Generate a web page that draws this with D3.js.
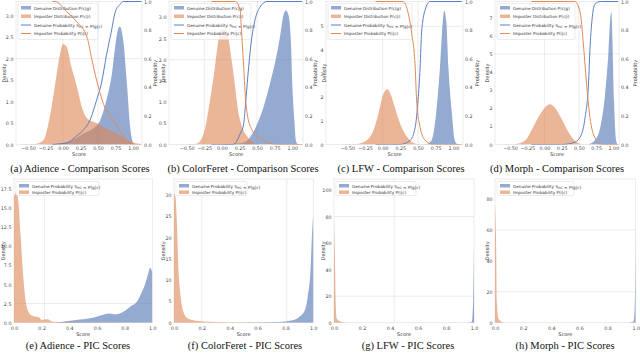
<!DOCTYPE html>
<html>
<head>
<meta charset="utf-8">
<script src="https://cdnjs.cloudflare.com/ajax/libs/d3/7.8.5/d3.min.js"></script>
<style>
body{margin:0;background:#fff;}
svg{display:block;}
</style>
</head>
<body>
<svg id="chart" width="640" height="354"></svg>
<script>
//tick values
var scoreTicksTop = [-0.5, -0.25, 0, 0.25, 0.5, 0.75, 1.0];
var scoreTicksBottom = [0, 0.2, 0.4, 0.6, 0.8, 1.0];
var probTicks = [0, 0.2, 0.4, 0.6, 0.8, 1.0];
var adienceDensityTicks = [0, 0.5, 1.0, 1.5, 2.0, 2.5, 3.0];
var colorferetDensityTicks = [0, 0.5, 1.0, 1.5, 2.0, 2.5, 3.0];
var lfwDensityTicks = [0, 1, 2, 3, 4, 5];
var morphDensityTicks = [0, 1, 2, 3, 4, 5, 6, 7];
var adiencePicTicks = [0, 2.5, 5.0, 7.5, 10.0, 12.5, 15.0, 17.5];
var colorferetPicTicks = [0, 5, 10, 15, 20, 25, 30];
var lfwPicTicks = [0, 20, 40, 60, 80, 100];
var morphPicTicks = [0, 20, 40, 60, 80];

var captions = ["(a) Adience - Comparison Scores", "(b) ColorFeret - Comparison Scores",
    "(c) LFW - Comparison Scores", "(d) Morph - Comparison Scores",
    "(e) Adience - PIC Scores", "(f) ColorFeret - PIC Scores",
    "(g) LFW - PIC Scores", "(h) Morph - PIC Scores"];

//comparison score densities [score, density]
var adienceGenuineDist = [[-0.25,0],[0.05,0.05],[0.29,0.25],[0.43,0.37],[0.53,0.56],[0.62,1.03],[0.70,1.66],[0.74,2.2],[0.79,2.7],[0.81,2.75],[0.86,2.44],[0.91,1.5],[0.96,0.4],[0.98,0.17],[1.01,0.03],[1.05,0]];
var adienceImposterDist = [[-0.62,0],[-0.40,0.01],[-0.28,0.1],[-0.19,0.63],[-0.11,1.42],[-0.04,2.12],[0.0,2.34],[0.05,2.28],[0.12,1.81],[0.20,1.34],[0.27,0.87],[0.34,0.62],[0.48,0.5],[0.67,0.33],[0.86,0.17],[1.0,0.03],[1.06,0]];
var colorferetGenuineDist = [[0.0,0],[0.07,0.01],[0.31,0.05],[0.40,0.17],[0.50,0.48],[0.59,0.875],[0.68,1.42],[0.76,1.97],[0.83,2.59],[0.87,3.02],[0.91,3.16],[0.945,3.06],[0.98,2.44],[1.0,1.42],[1.03,0.56],[1.05,0.1],[1.08,0]];
var colorferetImposterDist = [[-0.55,0],[-0.36,0.02],[-0.26,0.25],[-0.17,1.03],[-0.10,1.81],[-0.05,2.44],[-0.01,2.71],[0.045,2.71],[0.09,2.52],[0.14,1.97],[0.19,1.34],[0.23,0.8],[0.28,0.45],[0.35,0.21],[0.45,0.05],[0.54,0]];
var lfwGenuineDist = [[0.55,0],[0.62,0.02],[0.69,0.17],[0.76,1.43],[0.81,3.25],[0.85,5.2],[0.87,5.66],[0.90,5.2],[0.93,3.25],[0.98,1.29],[1.02,0.17],[1.06,0]];
var lfwImposterDist = [[-0.6,0],[-0.37,0.02],[-0.23,0.17],[-0.13,0.59],[-0.04,1.55],[0.0,2.05],[0.04,2.3],[0.07,2.34],[0.11,2.15],[0.16,1.7],[0.2,1.29],[0.29,0.59],[0.39,0.17],[0.48,0.02],[0.55,0]];
var morphGenuineDist = [[0.6,0],[0.64,0.02],[0.73,0.22],[0.81,0.95],[0.88,2.78],[0.93,5.16],[0.96,7.17],[0.97,7.35],[0.985,6.07],[1.01,2.41],[1.04,0.22],[1.06,0]];
var morphImposterDist = [[-0.6,0],[-0.43,0.02],[-0.28,0.22],[-0.19,0.77],[-0.09,1.5],[0.008,2.05],[0.08,2.23],[0.15,2.05],[0.25,1.41],[0.35,0.68],[0.44,0.22],[0.54,0.02],[0.6,0]];

//probability curves [score, probability]
var adienceGenuineProb = [[-0.15,0],[0.05,0.01],[0.195,0.06],[0.29,0.1],[0.386,0.17],[0.48,0.31],[0.55,0.43],[0.62,0.62],[0.695,0.8],[0.743,0.92],[0.814,0.98],[0.86,1.0],[1.12,1.0]];
var adienceImposterProb = [[-0.15,1.0],[-0.11,1.0],[0.05,0.93],[0.195,0.86],[0.35,0.74],[0.41,0.6],[0.48,0.45],[0.53,0.36],[0.58,0.28],[0.67,0.2],[0.77,0.13],[0.86,0.06],[0.96,0.01],[1.12,0]];
var colorferetGenuineProb = [[-0.15,0],[0.16,0],[0.26,0.075],[0.31,0.145],[0.34,0.31],[0.38,0.54],[0.42,0.73],[0.47,0.87],[0.54,0.96],[0.64,1.0],[1.14,1.0]];
var colorferetImposterProb = [[-0.15,1.0],[0.19,1.0],[0.26,0.94],[0.28,0.78],[0.31,0.54],[0.33,0.36],[0.36,0.215],[0.42,0.11],[0.52,0.05],[0.64,0.016],[0.78,0],[1.14,0]];
var lfwGenuineProb = [[-0.1,0],[0.245,0],[0.39,0.03],[0.46,0.12],[0.5,0.31],[0.53,0.54],[0.55,0.78],[0.6,0.94],[0.67,1.0],[1.12,1.0]];
var lfwImposterProb = [[-0.1,1.0],[0.29,1.0],[0.36,0.92],[0.41,0.78],[0.46,0.54],[0.48,0.31],[0.53,0.12],[0.6,0.03],[0.72,0],[1.12,0]];
var morphGenuineProb = [[-0.19,0],[0.25,0],[0.44,0.016],[0.54,0.075],[0.59,0.19],[0.64,0.43],[0.66,0.66],[0.69,0.87],[0.73,0.98],[0.81,1.0],[1.07,1.0]];
var morphImposterProb = [[-0.19,1.0],[0.44,1.0],[0.52,0.92],[0.56,0.73],[0.61,0.43],[0.66,0.19],[0.73,0.05],[0.83,0],[1.07,0]];

//PIC score densities [score, density]
var adienceGenuinePic = [[0.3,0],[0.45,0.35],[0.55,0.57],[0.62,0.92],[0.69,1.22],[0.74,1.1],[0.79,1.44],[0.84,2.1],[0.89,2.76],[0.92,3.85],[0.95,5.16],[0.97,6.4],[0.985,7.2],[1.0,6.6]];
var adienceImposterPic = [[0,16.5],[0.014,17.0],[0.03,16.1],[0.048,11.3],[0.067,6.0],[0.087,2.5],[0.116,1.1],[0.15,0.8],[0.18,0.7],[0.2,0.35],[0.24,0.44],[0.28,0.13],[0.38,0.1],[0.62,0.04],[1.0,0]];
var colorferetGenuinePic = [[0.5,0],[0.74,0.16],[0.86,0.63],[0.9,1.4],[0.94,3.0],[0.96,6.1],[0.98,12.4],[0.99,20.2],[0.998,24.9],[1.0,25.7]];
var colorferetImposterPic = [[0,30.4],[0.01,29.6],[0.02,24.1],[0.03,13.9],[0.048,6.1],[0.067,2.6],[0.1,1.0],[0.16,0.47],[0.26,0.23],[0.5,0.08],[1.0,0]];
var lfwGenuinePic = [[0.95,0],[0.983,0.5],[0.99,7],[0.995,19.5],[0.998,40],[1.0,57]];
var lfwImposterPic = [[0,76],[0.004,60],[0.008,42],[0.012,15],[0.02,3],[0.05,0.8],[0.1,0]];
var morphGenuinePic = [[0.95,0],[0.985,1],[0.992,8],[0.996,25],[0.999,50],[1.0,64]];
var morphImposterPic = [[0,77],[0.007,55.6],[0.014,12.5],[0.024,2.8],[0.047,0.6],[0.07,0]];

//legend labels
var topLegend = [
    {kind:"patch", who:"genuine", parts:["Genuine Distribution P(c|g)"]},
    {kind:"patch", who:"imposter", parts:["Imposter Distribution P(c|i)"]},
    {kind:"line", who:"genuine", parts:["Genuine Probability S", {sub:"PIC"}, " = P(g|c)"]},
    {kind:"line", who:"imposter", parts:["Imposter Probability P(i|c)"]}
];
var bottomLegend = [
    {kind:"patch", who:"genuine", parts:["Genuine Probability S", {sub:"PIC"}, " = P(g|c)"]},
    {kind:"patch", who:"imposter", parts:["Imposter Probability P(i|c)"]}
];

var colors = {genuine:"#4c72b0", imposter:"#dd8452"};
var lineColors = {genuine:"#5b7fc2", imposter:"#e08a5a"};

//panel layout (pixel boxes + axis limits)
var topRow = {top:1.5, bottom:144.5};
var bottomRow = {top:179, bottom:322.7};

var panels = [
    {left:16, right:142, row:topRow, xlim:[-0.671,1.129], ymax:3.33, xTicks:scoreTicksTop, xFmt:".2f", yTicks:adienceDensityTicks, yFmt:".1f",
     gen:adienceGenuineDist, imp:adienceImposterDist, genProb:adienceGenuineProb, impProb:adienceImposterProb,
     caption:captions[0], capX:80, gridX:[0,0.5], gridY:[2.0], legendW:80, densX:4, probX:155},
    {left:169, right:303, row:topRow, xlim:[-0.751,1.152], ymax:3.375, xTicks:scoreTicksTop, xFmt:".2f", yTicks:colorferetDensityTicks, yFmt:".1f",
     gen:colorferetGenuineDist, imp:colorferetImposterDist, genProb:colorferetGenuineProb, impProb:colorferetImposterProb,
     caption:captions[1], capX:243, gridX:[-0.25,0.5], gridY:[2.0], legendW:80, densX:163, probX:315},
    {left:326, right:463, row:topRow, xlim:[-0.801,1.136], ymax:6.05, xTicks:scoreTicksTop, xFmt:".2f", yTicks:lfwDensityTicks, yFmt:"d",
     gen:lfwGenuineDist, imp:lfwImposterDist, genProb:lfwGenuineProb, impProb:lfwImposterProb,
     caption:captions[2], capX:401, gridX:[0,0.5], gridY:[5], legendW:84, densX:324, probX:477},
    {left:495, right:619, row:topRow, xlim:[-0.718,1.082], ymax:7.9, xTicks:scoreTicksTop, xFmt:".2f", yTicks:morphDensityTicks, yFmt:"d",
     gen:morphGenuineDist, imp:morphImposterDist, genProb:morphGenuineProb, impProb:morphImposterProb,
     caption:captions[3], capX:557, gridX:[0,0.5], gridY:[5], legendW:78, densX:487, probX:635},
    {left:14, right:152.3, row:bottomRow, xlim:[0,1], ymax:18.8, xTicks:scoreTicksBottom, xFmt:".1f", yTicks:adiencePicTicks, yFmt:".1f",
     gen:adienceGenuinePic, imp:adienceImposterPic, caption:captions[4], capX:78, gridX:[0.22], gridY:[2.5], legendW:83, densX:3},
    {left:174, right:313.3, row:bottomRow, xlim:[0,1], ymax:33.76, xTicks:scoreTicksBottom, xFmt:".1f", yTicks:colorferetPicTicks, yFmt:"d",
     gen:colorferetGenuinePic, imp:colorferetImposterPic, caption:captions[5], capX:245, gridX:[0.2,0.81], gridY:[], legendW:71, densX:163},
    {left:334, right:474, row:bottomRow, xlim:[0,1], ymax:108.3, xTicks:scoreTicksBottom, xFmt:".1f", yTicks:lfwPicTicks, yFmt:"d",
     gen:lfwGenuinePic, imp:lfwImposterPic, caption:captions[6], capX:408, gridX:[0.43], gridY:[20,80], legendW:80, densX:323},
    {left:495, right:635.7, row:bottomRow, xlim:[0,1], ymax:93, xTicks:scoreTicksBottom, xFmt:".1f", yTicks:morphPicTicks, yFmt:"d",
     gen:morphGenuinePic, imp:morphImposterPic, caption:captions[7], capX:565, gridX:[], gridY:[20,60], legendW:77, densX:487}
];

var svg = d3.select("#chart");
var tickFont = "DejaVu Sans, sans-serif";

function styleAxis(g){
    g.select(".domain").remove();
    g.attr("font-size", 4.8).attr("font-family", tickFont);
    g.selectAll("text").style("fill", "#4a4a4a");
}

function addLegend(g, p, entries){
    var top = p.row.top + 2;
    var h = entries.length * 8.5 + 2;
    if (entries.length == 2){ top = p.row.top + 2.5; h = 14; }
    var left = p.left + 2;
    g.append("rect")
        .attr("x", left).attr("y", top)
        .attr("width", p.legendW).attr("height", h)
        .attr("rx", 1.5)
        .style("fill", "white").style("fill-opacity", 0.8)
        .style("stroke", "#d9d9d9").style("stroke-width", 0.5);
    var step = entries.length == 2 ? 6.5 : 8.5;
    entries.forEach(function(e, i){
        var cy = top + 4.5 + i * step;
        if (e.kind == "patch"){
            g.append("rect").attr("x", left + 3).attr("y", cy - 2)
                .attr("width", 10).attr("height", 3.5)
                .style("fill", colors[e.who]).style("fill-opacity", 0.6);
        } else {
            g.append("line").attr("x1", left + 3).attr("x2", left + 13)
                .attr("y1", cy).attr("y2", cy)
                .style("stroke", lineColors[e.who]).style("stroke-width", 1);
        }
        var t = g.append("text").attr("x", left + 16).attr("y", cy + 1.5)
            .attr("font-size", 4.2).attr("font-family", tickFont).style("fill", "#333");
        e.parts.forEach(function(part){
            if (typeof part == "string") t.append("tspan").text(part);
            else {
                t.append("tspan").attr("font-size", 3).attr("dy", 1).text(part.sub);
                t.append("tspan").attr("dy", -1).text("");
            }
        });
    });
}

panels.forEach(function(p, idx){
    var top = p.row.top, bottom = p.row.bottom;
    var x = d3.scaleLinear().domain(p.xlim).range([p.left, p.right]);
    var y = d3.scaleLinear().domain([0, p.ymax]).range([bottom, top]);
    var yProb = d3.scaleLinear().domain([0, 1]).range([bottom, top]);
    var g = svg.append("g");

    //clip to plot area
    var clipId = "clip" + idx;
    svg.append("clipPath").attr("id", clipId).append("rect")
        .attr("x", p.left).attr("y", top - 1)
        .attr("width", p.right - p.left).attr("height", bottom - top + 1);

    //grid lines
    g.selectAll(".gx").data(p.gridX).enter().append("line")
        .attr("x1", function(d){ return x(d); }).attr("x2", function(d){ return x(d); })
        .attr("y1", top).attr("y2", bottom)
        .style("stroke", "#e6e6e6").style("stroke-width", 0.8);
    g.selectAll(".gy").data(p.gridY).enter().append("line")
        .attr("x1", p.left).attr("x2", p.right)
        .attr("y1", function(d){ return y(d); }).attr("y2", function(d){ return y(d); })
        .style("stroke", "#e6e6e6").style("stroke-width", 0.8);

    //frame
    g.append("rect").attr("x", p.left).attr("y", top)
        .attr("width", p.right - p.left).attr("height", bottom - top)
        .style("fill", "none").style("stroke", "#e3e3e3").style("stroke-width", 0.7);

    //density fills
    var area = d3.area()
        .x(function(d){ return x(d[0]); })
        .y0(y(0))
        .y1(function(d){ return y(d[1]); })
        .curve(d3.curveMonotoneX);
    var plot = g.append("g").attr("clip-path", "url(#" + clipId + ")");
    plot.append("path").datum(p.gen).attr("d", area)
        .style("fill", colors.genuine).style("fill-opacity", 0.6);
    plot.append("path").datum(p.imp).attr("d", area)
        .style("fill", colors.imposter).style("fill-opacity", 0.6);

    //axes
    var xAxis = d3.axisBottom(x).tickValues(p.xTicks).tickSize(0)
        .tickPadding(p.row == topRow ? 2.5 : 4).tickFormat(d3.format(p.xFmt));
    g.append("g").attr("transform", "translate(0," + bottom + ")").call(xAxis).call(styleAxis);
    var yAxis = d3.axisLeft(y).tickValues(p.yTicks).tickSize(0).tickPadding(2.5)
        .tickFormat(d3.format(p.yFmt));
    g.append("g").attr("transform", "translate(" + p.left + ",0)").call(yAxis).call(styleAxis);

    g.append("text").attr("x", (p.left + p.right) / 2).attr("y", bottom + (p.row == topRow ? 11.5 : 13))
        .attr("text-anchor", "middle").attr("font-size", 5).attr("font-family", tickFont)
        .style("fill", "#333").text("Score");
    g.append("text").attr("transform", "translate(" + p.densX + "," + ((top + bottom) / 2) + ") rotate(-90)")
        .attr("text-anchor", "middle").attr("dy", "0.35em").attr("font-size", 5).attr("font-family", tickFont)
        .style("fill", "#333").text("Density");

    //legend
    addLegend(g, p, p.row == topRow ? topLegend : bottomLegend);

    //probability twin axis (comparison panels)
    if (p.genProb){
        var line = d3.line()
            .x(function(d){ return x(d[0]); })
            .y(function(d){ return yProb(d[1]); })
            .curve(d3.curveMonotoneX);
        var lines = g.append("g").attr("clip-path", "url(#" + clipId + ")");
        lines.append("path").datum(p.genProb).attr("d", line)
            .style("fill", "none").style("stroke", lineColors.genuine).style("stroke-width", 1);
        lines.append("path").datum(p.impProb).attr("d", line)
            .style("fill", "none").style("stroke", lineColors.imposter).style("stroke-width", 1);
        var pAxis = d3.axisRight(yProb).tickValues(probTicks).tickSize(0).tickPadding(2)
            .tickFormat(d3.format(".1f"));
        g.append("g").attr("transform", "translate(" + p.right + ",0)").call(pAxis).call(styleAxis);
        g.append("text").attr("transform", "translate(" + p.probX + "," + ((top + bottom) / 2) + ") rotate(-90)")
            .attr("text-anchor", "middle").attr("dy", "0.35em").attr("font-size", 5).attr("font-family", tickFont)
            .style("fill", "#333").text("Probability");
    }

    //caption
    svg.append("text").attr("x", p.capX).attr("y", p.row == topRow ? 171.5 : 348.5)
        .attr("text-anchor", "middle").attr("font-size", 10.5)
        .attr("font-family", "Liberation Serif, Times New Roman, serif")
        .style("fill", "#111").text(p.caption);
});
</script>
</body>
</html>
